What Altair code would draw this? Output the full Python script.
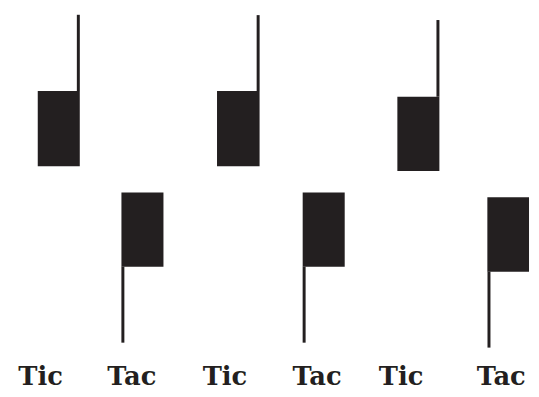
import altair as alt
import pandas as pd

labels = ["Tic", "Tac", "Tic", "Tac", "Tic", "Tac"]
kind = ["up", "down", "up", "down", "up", "down"]
stem_x = [3.90, 6.37, 13.87, 16.42, 23.84, 26.67]
bar_left = [1.65, 6.29, 11.59, 16.34, 21.59, 26.58]
bar_right = [3.98, 8.62, 13.95, 18.67, 23.92, 28.89]
bar_high = [78.48, 51.63, 78.48, 51.63, 76.98, 50.31]
bar_low = [58.53, 31.94, 58.53, 31.94, 57.30, 30.63]
stem_end = [98.69, 11.81, 98.60, 11.81, 97.30, 10.50]
label_x = [1.81, 6.87, 12.03, 17.14, 21.80, 27.35]
label_y = [0.52] * 6

df = pd.DataFrame({
    "label": labels,
    "kind": kind,
    "stem_x": stem_x,
    "bar_left": bar_left,
    "bar_right": bar_right,
    "bar_high": bar_high,
    "bar_low": bar_low,
    "stem_end": stem_end,
    "label_x": label_x,
    "label_y": label_y,
})
df["attach"] = [h if k == "up" else l for k, h, l in zip(kind, bar_high, bar_low)]

ink = "#231f20"
xs = alt.Scale(domain=[0, 29], nice=False, zero=False)
ys = alt.Scale(domain=[-2.1, 100], nice=False, zero=False)

base = alt.Chart(df)

bars = base.mark_rect(color=ink).encode(
    x=alt.X("bar_left:Q", scale=xs, axis=None),
    x2="bar_right:Q",
    y=alt.Y("bar_low:Q", scale=ys, axis=None),
    y2="bar_high:Q",
)

stems = base.mark_rule(color=ink, strokeWidth=3).encode(
    x=alt.X("stem_x:Q", scale=xs, axis=None),
    y=alt.Y("attach:Q", scale=ys, axis=None),
    y2="stem_end:Q",
)

text = base.mark_text(
    font="DejaVu Serif", fontWeight="bold", fontSize=26, color=ink,
    baseline="alphabetic", align="center",
).encode(
    x=alt.X("label_x:Q", scale=xs, axis=None),
    y=alt.Y("label_y:Q", scale=ys, axis=None),
    text="label:N",
)

chart = alt.layer(bars, stems, text).properties(
    width=528, height=389, padding=0,
    autosize=alt.AutoSizeParams(type="none"),
    background="white",
).configure_view(stroke=None)

chart.save("out.html", embed_options={"renderer": "svg", "actions": False})
